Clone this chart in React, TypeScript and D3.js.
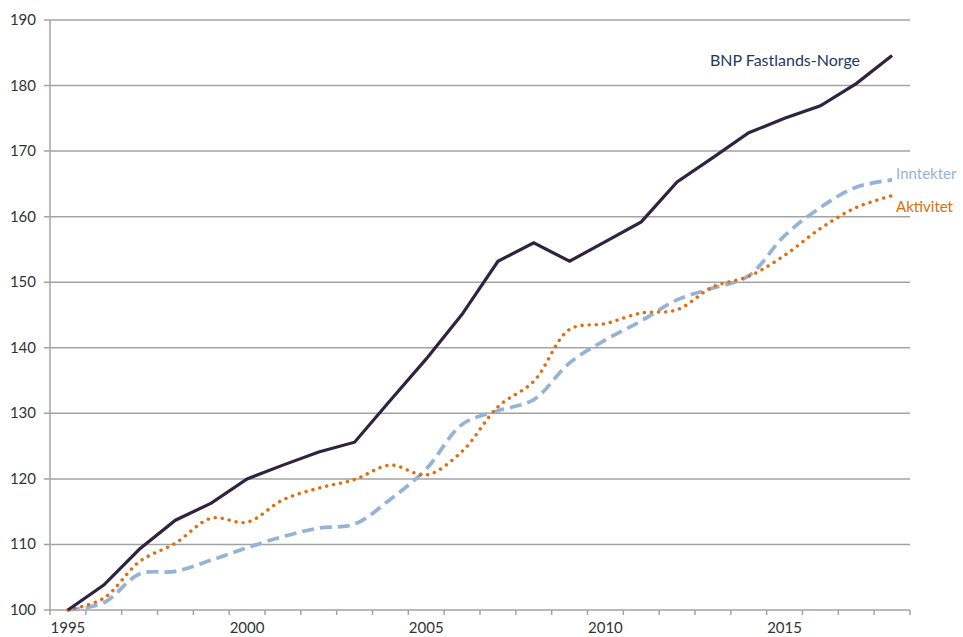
import React, { useEffect, useRef } from "react";
import * as d3 from "d3";

// år 1995-2018, indeks 1995 = 100
const years = d3.range(1995, 2019);
const bnp = [100, 103.8, 109.3, 113.7, 116.3, 120, 122.1, 124.1, 125.6, 132, 138.3, 145.1, 153.2, 156, 153.2, 156.2, 159.2, 165.3, 169, 172.8, 175, 176.9, 180.3, 184.6];
const inntekter = [100, 101.1, 105.5, 105.9, 107.6, 109.5, 111.2, 112.5, 113.1, 116.9, 121.5, 128.3, 130.4, 132.1, 137.7, 141.2, 144.1, 147.3, 149.1, 151, 157.1, 161.4, 164.5, 165.6];
const aktivitet = [100, 101.8, 107.4, 110.2, 114, 113.4, 116.8, 118.6, 119.9, 122.1, 120.6, 124.2, 131, 134.9, 142.8, 143.7, 145.3, 145.8, 149.3, 150.9, 154.1, 158.2, 161.4, 163.2];
const yTicks = [100, 110, 120, 130, 140, 150, 160, 170, 180, 190];
const xLabels = [1995, 2000, 2005, 2010, 2015];

const W = 963, H = 637;
const font = "Lato, 'Open Sans', sans-serif";

export default function App() {
  const svgRef = useRef<SVGSVGElement>(null);

  useEffect(() => {
    document.body.style.margin = "0";
    const svg = d3.select(svgRef.current);
    svg.selectAll("*").remove();

    const left = 50, right = 910, top = 20, bottom = 610;
    const x = d3.scaleBand<number>().domain(years).range([left, right]);
    const cx = (yr: number) => (x(yr) as number) + x.bandwidth() / 2;
    const y = d3.scaleLinear().domain([100, 190]).range([bottom, top]);

    // rutenett
    svg.append("g")
      .selectAll("line")
      .data(yTicks)
      .join("line")
      .attr("x1", left - 6)
      .attr("x2", right)
      .attr("y1", d => y(d))
      .attr("y2", d => y(d))
      .attr("stroke", "#a3a3a3")
      .attr("stroke-width", 1.5);

    svg.append("line")
      .attr("x1", left).attr("x2", left)
      .attr("y1", top).attr("y2", bottom)
      .attr("stroke", "#a3a3a3").attr("stroke-width", 1.5);

    // x-aksens tick-streker mellom år
    const edges = years.map(yr => x(yr) as number).concat([right]);
    svg.append("g")
      .selectAll("line")
      .data(edges)
      .join("line")
      .attr("x1", d => d).attr("x2", d => d)
      .attr("y1", bottom).attr("y2", bottom + 5)
      .attr("stroke", "#a3a3a3").attr("stroke-width", 1.5);

    svg.append("g")
      .selectAll("text")
      .data(yTicks)
      .join("text")
      .attr("x", 36)
      .attr("y", d => y(d) + 5)
      .attr("text-anchor", "end")
      .attr("font-family", font)
      .attr("font-size", 15)
      .attr("fill", "#333")
      .text(d => d);

    svg.append("g")
      .selectAll("text")
      .data(xLabels)
      .join("text")
      .attr("x", d => cx(d))
      .attr("y", 633)
      .attr("text-anchor", "middle")
      .attr("font-family", font)
      .attr("font-size", 15)
      .attr("fill", "#333")
      .text(d => d);

    const mk = (curve: d3.CurveFactory) =>
      d3.line<number>().x((_, i) => cx(years[i])).y(d => y(d)).curve(curve);

    svg.append("path")
      .attr("d", mk(d3.curveCatmullRom.alpha(0.5))(inntekter) as string)
      .attr("fill", "none")
      .attr("stroke", "#95b3d7")
      .attr("stroke-width", 3.7)
      .attr("stroke-dasharray", "12 6");

    svg.append("path")
      .attr("d", mk(d3.curveCatmullRom.alpha(0.5))(aktivitet) as string)
      .attr("fill", "none")
      .attr("stroke", "#e46c0a")
      .attr("stroke-width", 3.4)
      .attr("stroke-linecap", "round")
      .attr("stroke-dasharray", "0.1 7");

    svg.append("path")
      .attr("d", mk(d3.curveLinear)(bnp) as string)
      .attr("fill", "none")
      .attr("stroke", "#2f2340")
      .attr("stroke-width", 3.2);

    const last = years[years.length - 1];
    const lx = cx(last);
    svg.append("text")
      .attr("x", lx - 32).attr("y", y(bnp[bnp.length - 1]) + 11)
      .attr("text-anchor", "end")
      .attr("font-family", font).attr("font-size", 16)
      .attr("fill", "#1f3864")
      .text("BNP Fastlands-Norge");
    svg.append("text")
      .attr("x", lx + 4).attr("y", y(inntekter[inntekter.length - 1]) - 1)
      .attr("font-family", font).attr("font-size", 15)
      .attr("fill", "#95b3d7")
      .text("Inntekter");
    svg.append("text")
      .attr("x", lx + 4).attr("y", y(aktivitet[aktivitet.length - 1]) + 16)
      .attr("font-family", font).attr("font-size", 15)
      .attr("fill", "#e46c0a")
      .text("Aktivitet");
  }, []);

  return (
    <svg ref={svgRef} width={W} height={H} style={{ display: "block", background: "#fff" }} />
  );
}
